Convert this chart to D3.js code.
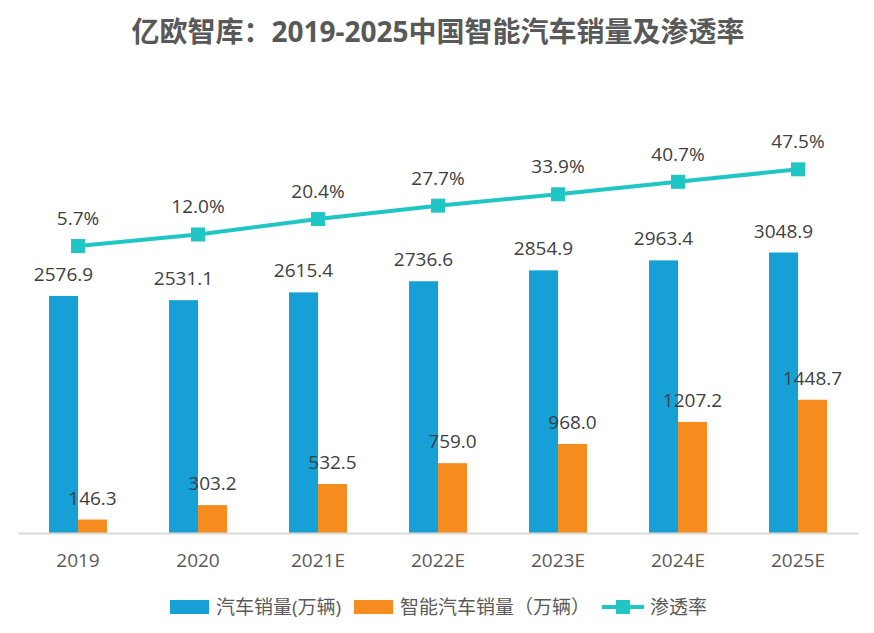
<!DOCTYPE html>
<html><head><meta charset="utf-8">
<script src="https://cdn.jsdelivr.net/npm/d3@7/dist/d3.min.js"></script>
<style>
html,body{margin:0;padding:0;background:#fff;}
svg text{font-family:"Open Sans","Noto Sans CJK SC",sans-serif;}
</style></head>
<body>
<svg id="chart" width="874" height="633"></svg>
<script>
const categories = ["2019","2020","2021E","2022E","2023E","2024E","2025E"];
const carSales = [2576.9,2531.1,2615.4,2736.6,2854.9,2963.4,3048.9];
const smartSales = [146.3,303.2,532.5,759.0,968.0,1207.2,1448.7];
const penetration = [5.7,12.0,20.4,27.7,33.9,40.7,47.5];
const seriesNames = ["汽车销量(万辆)","智能汽车销量（万辆）","渗透率"];
const titleText = "亿欧智库：2019-2025中国智能汽车销量及渗透率";

const colors = {car:"#17a0d6", smart:"#f68b1f", line:"#1fc6c4"};
const svg = d3.select("#chart");

const x0 = d3.scaleBand().domain(categories).range([18,858]).padding(0);
const x1 = d3.scaleBand().domain(["car","smart"]).range([0,x0.bandwidth()]).paddingInner(0).paddingOuter(1.07);
const y = d3.scaleLinear().domain([0,3500]).range([533,211]);
const yp = d3.scaleLinear().domain([0,50]).range([256.5,164.75]);

// title
svg.append("text").attr("x",438).attr("y",42).attr("text-anchor","middle")
  .attr("font-size",28).attr("font-weight","bold").attr("fill","#595959").text(titleText);

// bars
const groups = svg.append("g").selectAll("g").data(categories).join("g")
  .attr("transform",d=>`translate(${x0(d)},0)`);
groups.append("rect").attr("x",x1("car")).attr("width",x1.bandwidth())
  .attr("y",(d,i)=>y(carSales[i])).attr("height",(d,i)=>y(0)-y(carSales[i])).attr("fill",colors.car);
groups.append("rect").attr("x",x1("smart")).attr("width",x1.bandwidth())
  .attr("y",(d,i)=>y(smartSales[i])).attr("height",(d,i)=>y(0)-y(smartSales[i])).attr("fill",colors.smart);

// axis
const xAxis = d3.axisBottom(x0).tickSize(0).tickPadding(0);
const ax = svg.append("g").attr("transform","translate(0,533)").call(xAxis);
ax.select(".domain").attr("stroke","#d9d9d9").attr("stroke-width",2);
ax.selectAll("text").attr("font-size",19).attr("fill","#595959").attr("dy",null).attr("y",34);

// bar labels
groups.append("text").attr("x",x1("car")+x1.bandwidth()/2).attr("y",(d,i)=>y(carSales[i])-15)
  .attr("text-anchor","middle").attr("font-size",19).attr("fill","#404040").text((d,i)=>carSales[i].toFixed(1));
groups.append("text").attr("x",x1("smart")+x1.bandwidth()/2).attr("y",(d,i)=>y(smartSales[i])-15)
  .attr("text-anchor","middle").attr("font-size",19).attr("fill","#404040").text((d,i)=>smartSales[i].toFixed(1));

// line
const cx = d=>x0(d)+x0.bandwidth()/2;
const line = d3.line().x((d,i)=>cx(categories[i])).y(d=>yp(d));
svg.append("path").datum(penetration).attr("d",line).attr("fill","none")
  .attr("stroke",colors.line).attr("stroke-width",4);
svg.append("g").selectAll("rect").data(penetration).join("rect")
  .attr("x",(d,i)=>cx(categories[i])-7).attr("y",d=>yp(d)-7).attr("width",14).attr("height",14)
  .attr("fill",colors.line);
svg.append("g").selectAll("text").data(penetration).join("text")
  .attr("x",(d,i)=>cx(categories[i])).attr("y",d=>yp(d)-21).attr("text-anchor","middle")
  .attr("font-size",19).attr("fill","#404040").text(d=>d.toFixed(1)+"%");

// legend
const lg = svg.append("g");
lg.append("rect").attr("x",170).attr("y",600).attr("width",39).attr("height",14).attr("fill",colors.car);
lg.append("text").attr("x",216).attr("y",614).attr("font-size",19).attr("fill","#595959").text(seriesNames[0]);
lg.append("rect").attr("x",354).attr("y",600).attr("width",39).attr("height",14).attr("fill",colors.smart);
lg.append("text").attr("x",400).attr("y",614).attr("font-size",19).attr("fill","#595959").text(seriesNames[1]);
lg.append("line").attr("x1",602).attr("x2",644).attr("y1",607).attr("y2",607).attr("stroke",colors.line).attr("stroke-width",4);
lg.append("rect").attr("x",616).attr("y",600).attr("width",14).attr("height",14).attr("fill",colors.line);
lg.append("text").attr("x",650).attr("y",614).attr("font-size",19).attr("fill","#595959").text(seriesNames[2]);
</script>
</body></html>
